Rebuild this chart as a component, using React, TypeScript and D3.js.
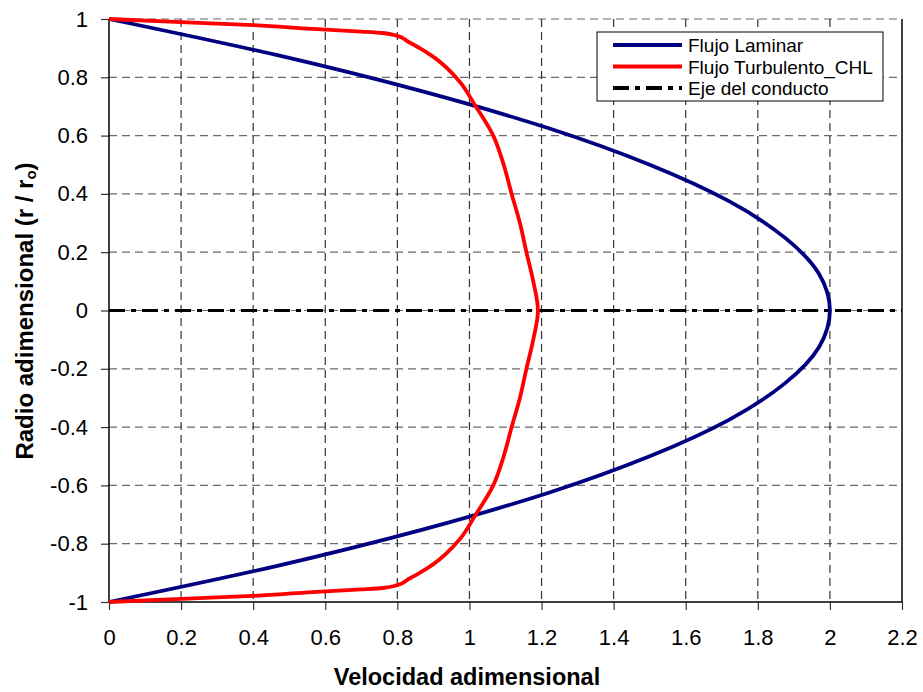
import React, { useEffect, useRef } from "react";
import * as d3 from "d3";

// Radio adimensional (r / ro)
const laminarR = [1, 0.875, 0.75, 0.625, 0.5, 0.375, 0.25, 0.125, 0, -0.125, -0.25, -0.375, -0.5, -0.625, -0.75, -0.875, -1];
// Velocidad adimensional, flujo laminar
const laminarU = [0, 0.47, 0.875, 1.22, 1.5, 1.72, 1.875, 1.97, 2, 1.97, 1.875, 1.72, 1.5, 1.22, 0.875, 0.47, 0];

const turbR = [1, 0.989, 0.979, 0.966, 0.957, 0.952, 0.942, 0.922, 0.9, 0.87, 0.785, 0.705, 0.6, 0.5, 0.4, 0.3, 0.2, 0.1, 0,
  -0.1, -0.2, -0.3, -0.4, -0.5, -0.6, -0.705, -0.785, -0.87, -0.9, -0.922, -0.942, -0.952, -0.957, -0.966, -0.979, -0.989, -1];
const turbU = [0, 0.2, 0.4, 0.565, 0.7, 0.76, 0.8, 0.83, 0.862, 0.9, 0.973, 1.015, 1.066, 1.095, 1.117, 1.14, 1.158, 1.177, 1.19,
  1.177, 1.158, 1.14, 1.117, 1.095, 1.066, 1.015, 0.973, 0.9, 0.862, 0.83, 0.8, 0.76, 0.7, 0.565, 0.4, 0.2, 0];

const xTicks = [0, 0.2, 0.4, 0.6, 0.8, 1, 1.2, 1.4, 1.6, 1.8, 2, 2.2];
const yTicks = [-1, -0.8, -0.6, -0.4, -0.2, 0, 0.2, 0.4, 0.6, 0.8, 1];

const legendItems = [
  { label: "Flujo Laminar", color: "#000080", dash: "" },
  { label: "Flujo Turbulento_CHL", color: "#ff0000", dash: "" },
  { label: "Eje del conducto", color: "#000000", dash: "16,6,5,6" },
];

const FONT = "'Liberation Sans', Arial, sans-serif";

const ProfileChart: React.FC = () => {
  const ref = useRef<SVGSVGElement | null>(null);

  useEffect(() => {
    const width = 923;
    const height = 692;
    const margin = { top: 19, right: 21, bottom: 90, left: 109 };
    const w = width - margin.left - margin.right;
    const h = height - margin.top - margin.bottom;

    d3.select(ref.current).selectAll("*").remove();

    const root = d3.select(ref.current).attr("width", width).attr("height", height);
    root.append("rect").attr("width", width).attr("height", height).attr("fill", "#fff");

    const svg = root.append("g").attr("transform", `translate(${margin.left},${margin.top})`);

    const x = d3.scaleLinear().domain([0, 2.2]).range([0, w]);
    const y = d3.scaleLinear().domain([-1, 1]).range([h, 0]);

    // Grid
    svg
      .selectAll(".hgrid")
      .data(yTicks.filter((d) => d > -1))
      .enter()
      .append("line")
      .attr("x1", 0)
      .attr("x2", w)
      .attr("y1", (d) => y(d))
      .attr("y2", (d) => y(d))
      .attr("stroke", "#6a6a6a")
      .attr("stroke-width", 1.2)
      .attr("stroke-dasharray", "8,5");

    svg
      .selectAll(".vgrid")
      .data(xTicks.filter((d) => d > 0 && d < 2.2))
      .enter()
      .append("line")
      .attr("x1", (d) => x(d))
      .attr("x2", (d) => x(d))
      .attr("y1", 0)
      .attr("y2", h)
      .attr("stroke", "#333")
      .attr("stroke-width", 1.2)
      .attr("stroke-dasharray", "8,5");

    // Axes
    const yAxis = svg
      .append("g")
      .call(d3.axisLeft(y).tickValues(yTicks).tickSize(8).tickPadding(13).tickFormat((d) => String(d)));
    const xAxis = svg
      .append("g")
      .attr("transform", `translate(0,${h})`)
      .call(d3.axisBottom(x).tickValues(xTicks).tickSize(8).tickPadding(19).tickFormat((d) => String(d)));

    [yAxis, xAxis].forEach((g) => {
      g.select(".domain").remove();
      g.selectAll("line").attr("stroke", "#333").attr("stroke-width", 1.2);
      g.selectAll("text").attr("font-family", FONT).attr("font-size", 22).attr("fill", "#000");
    });

    svg.append("line").attr("x1", 0).attr("x2", 0).attr("y1", 0).attr("y2", h).attr("stroke", "#000").attr("stroke-width", 1.5);
    svg.append("line").attr("x1", 0).attr("x2", w).attr("y1", h).attr("y2", h).attr("stroke", "#000").attr("stroke-width", 1.5);
    svg.append("line").attr("x1", w).attr("x2", w).attr("y1", 0).attr("y2", h).attr("stroke", "#000").attr("stroke-width", 1.5);

    // Eje del conducto
    svg
      .append("line")
      .attr("x1", 0)
      .attr("x2", w)
      .attr("y1", y(0))
      .attr("y2", y(0))
      .attr("stroke", "#000")
      .attr("stroke-width", 3)
      .attr("stroke-dasharray", "16,6,5,6");

    const line = d3
      .line<[number, number]>()
      .x((d) => x(d[0]))
      .y((d) => y(d[1]))
      .curve(d3.curveMonotoneY);

    const laminar: [number, number][] = laminarU.map((u, i) => [u, laminarR[i]]);
    const turb: [number, number][] = turbU.map((u, i) => [u, turbR[i]]);

    svg
      .append("path")
      .datum(laminar)
      .attr("d", line)
      .attr("fill", "none")
      .attr("stroke", "#000080")
      .attr("stroke-width", 3.8)
      .attr("stroke-linejoin", "round");

    svg
      .append("path")
      .datum(turb)
      .attr("d", line)
      .attr("fill", "none")
      .attr("stroke", "#ff0000")
      .attr("stroke-width", 3.8)
      .attr("stroke-linejoin", "round");

    // Legend
    const lg = root.append("g").attr("transform", "translate(597,32)");
    lg.append("rect").attr("width", 286).attr("height", 69).attr("fill", "#fff").attr("stroke", "#000").attr("stroke-width", 1);
    legendItems.forEach((item, i) => {
      const cy = 13 + i * 21.5;
      lg.append("line")
        .attr("x1", 16)
        .attr("x2", 85)
        .attr("y1", cy)
        .attr("y2", cy)
        .attr("stroke", item.color)
        .attr("stroke-width", 3.8)
        .attr("stroke-dasharray", item.dash || null);
      lg.append("text")
        .attr("x", 91)
        .attr("y", cy + 7)
        .attr("font-family", FONT)
        .attr("font-size", 19)
        .text(item.label);
    });

    // Axis titles
    root
      .append("text")
      .attr("x", 467)
      .attr("y", 685)
      .attr("text-anchor", "middle")
      .attr("font-family", FONT)
      .attr("font-weight", "bold")
      .attr("font-size", 23.5)
      .text("Velocidad adimensional");

    const yt = root
      .append("text")
      .attr("transform", `translate(33,311) rotate(-90)`)
      .attr("text-anchor", "middle")
      .attr("font-family", FONT)
      .attr("font-weight", "bold")
      .attr("font-size", 24);
    yt.append("tspan").text("Radio adimensional (r / r");
    yt.append("tspan").attr("font-size", 15).attr("dy", 3).text("o");
    yt.append("tspan").attr("dy", -3).text(")");
  }, []);

  return <svg ref={ref} style={{ display: "block", position: "absolute", left: 0, top: 0 }}></svg>;
};

export default function App() {
  return <ProfileChart />;
}
